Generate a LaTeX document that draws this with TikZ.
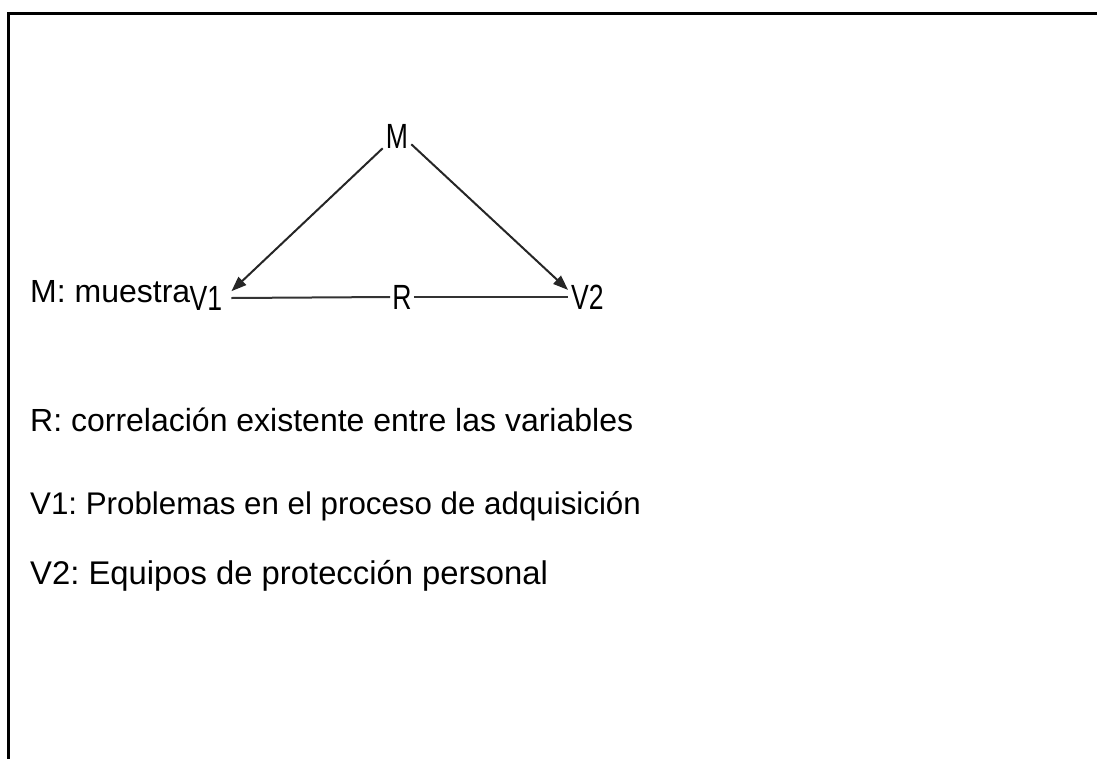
\documentclass[tikz,border=0pt]{standalone}
\usepackage{fontspec}
\setmainfont{Liberation Sans}
\usetikzlibrary{arrows.meta}
\frenchspacing
\tikzset{
  txt/.style={anchor=base west, inner sep=0pt, font=\fontsize{32}{38}\selectfont},
  lab/.style={inner ysep=0pt, font=\fontsize{35}{40}\selectfont},
  arr/.style={draw=black!85, line width=2pt, -{Triangle[length=15pt,width=11pt]}},
  link/.style={draw=black!80, line width=2pt},
  frame/.style={draw=black, line width=2.5pt}
}
\newcommand{\nar}[1]{\scalebox{0.76}[1]{#1}}
\begin{document}
\frenchspacing
\begin{tikzpicture}[x=1pt,y=-1pt]
\useasboundingbox (0,0) rectangle (1097,758);
\coordinate (fb) at (8.5,760);
\coordinate (fc) at (8.5,13.5);
\coordinate (fr) at (1099,13.5);
\draw[frame] (fb) -- (fc) -- (fr);

\node[lab, inner xsep=3pt] (M) at (397,136) {\nar{M}};
\node[lab, inner xsep=9pt] (V1) at (206,298) {\nar{V1}};
\node[lab, inner xsep=2pt] (R) at (402,297) {\nar{R}};
\node[lab, inner xsep=3pt] (V2) at (587.5,297) {\nar{V2}};

\draw[arr] (M.south west) -- (V1.15);
\draw[arr] (M.-30) -- (V2.160);
\draw[link] (V1.east) -- (R.west);
\draw[link] (R.east) -- (V2.west);

\node[txt] (tM) at (30,302) {M: muestra};
\node[txt] (tR) at (30,431) {R: correlación existente entre las variables};
\node[txt, font=\fontsize{31.3}{38}\selectfont] (tV1) at (30,514) {V1: Problemas en el proceso de adquisición};
\node[txt, font=\fontsize{32.8}{38}\selectfont] (tV2) at (30,584) {V2: Equipos de protección personal};
\end{tikzpicture}
\end{document}
